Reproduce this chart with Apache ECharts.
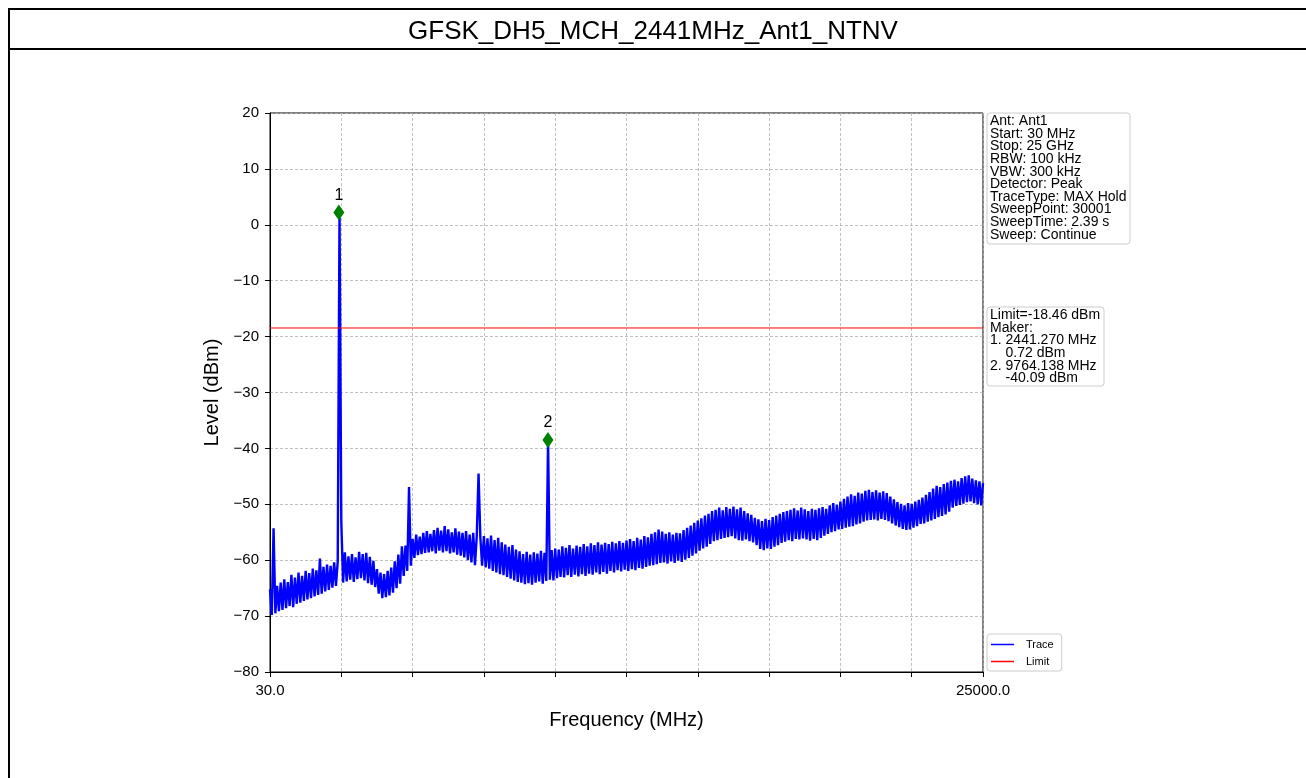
<!DOCTYPE html>
<html>
<head>
<meta charset="utf-8">
<script src="https://cdn.jsdelivr.net/npm/echarts@6/dist/echarts.min.js"></script>
<style>
html,body{margin:0;padding:0;background:#fff;}
#c{width:1306px;height:778px;}
</style>
</head>
<body>
<div id="c"></div>
<script>
// ---- data ----
const TITLE = 'GFSK_DH5_MCH_2441MHz_Ant1_NTNV';
const START_MHZ = 30;
const STOP_MHZ = 25000;
const X_TICK_STEP = 2497;
const Y_MIN = -80, Y_MAX = 20, Y_STEP = 10;
const LIMIT_DBM = -18.46;
// trace levels (dBm), 401 sweep samples from start to stop
const traceLevels = [
-65.2,-69.8,-54.3,-69.5,-64.6,-69.1,-64.0,-68.9,-63.4,-68.6,-63.9,-68.2,-62.6,-68.4,-63.1,-67.8,-62.2,-67.6,-62.8,-67.3,
-61.9,-67.0,-62.3,-66.8,-61.5,-66.5,-61.8,-66.2,-59.7,-66.0,-61.2,-65.6,-60.8,-65.3,-61.0,-64.9,-60.4,-64.6,-60.2,2.2,
-53.1,-64.0,-58.6,-63.8,-59.3,-63.5,-58.9,-63.9,-59.5,-63.4,-58.5,-63.2,-58.9,-63.6,-58.7,-64.1,-59.4,-64.4,-60.1,-64.8,
-61.6,-66.0,-62.2,-66.8,-62.5,-66.6,-61.9,-66.3,-61.3,-65.8,-60.2,-65.0,-59.0,-64.2,-57.5,-62.8,-57.4,-61.9,-46.9,-61.0,
-56.2,-59.6,-55.4,-59.1,-55.8,-58.9,-55.1,-58.7,-54.8,-58.6,-55.3,-58.4,-54.6,-58.8,-54.2,-58.3,-54.7,-58.6,-53.9,-58.4,
-54.5,-58.8,-55.0,-58.6,-54.3,-59.0,-54.9,-59.2,-55.1,-59.5,-54.8,-60.0,-55.4,-60.4,-55.1,-60.9,-55.6,-44.5,-55.9,-61.0,
-55.7,-61.3,-56.1,-61.5,-55.6,-61.9,-56.4,-62.2,-56.0,-62.5,-56.8,-62.7,-57.2,-63.0,-57.6,-63.3,-57.3,-63.6,-58.1,-63.9,
-58.4,-64.0,-58.9,-64.3,-58.5,-64.1,-59.0,-64.4,-58.6,-64.0,-58.8,-63.8,-58.3,-64.2,-58.7,-63.7,-38.5,-63.5,-58.2,-63.6,
-57.9,-63.2,-58.1,-63.0,-57.5,-63.1,-57.8,-62.7,-57.3,-63.0,-57.9,-62.6,-57.4,-62.9,-57.6,-62.5,-57.1,-62.8,-57.5,-62.4,
-57.0,-62.6,-57.3,-62.2,-56.8,-62.5,-57.2,-62.1,-56.9,-62.4,-57.1,-61.9,-56.7,-62.2,-57.0,-61.8,-56.6,-62.0,-56.9,-61.7,
-56.5,-61.9,-56.2,-61.6,-56.6,-61.8,-56.0,-61.4,-56.3,-61.5,-55.7,-61.2,-55.9,-61.0,-55.3,-60.9,-55.0,-60.7,-54.5,-60.5,
-54.9,-60.4,-55.3,-60.6,-55.0,-60.2,-55.4,-60.5,-55.1,-60.1,-55.2,-60.3,-54.6,-59.9,-54.2,-59.6,-53.8,-59.2,-53.3,-58.8,
-52.9,-58.3,-52.5,-57.9,-52.0,-57.6,-51.7,-57.1,-51.2,-56.6,-51.0,-56.4,-50.6,-56.2,-51.1,-56.0,-50.5,-55.9,-50.8,-55.7,
-50.4,-56.1,-50.9,-56.4,-50.6,-56.5,-51.2,-56.3,-51.6,-56.6,-51.9,-56.8,-52.4,-57.3,-52.7,-58.0,-53.0,-58.2,-52.6,-57.9,
-52.8,-58.0,-52.3,-57.6,-52.0,-57.3,-51.7,-56.9,-51.4,-56.7,-51.2,-56.4,-51.0,-56.6,-50.7,-56.2,-51.1,-56.3,-50.6,-56.1,
-50.9,-56.3,-51.2,-56.5,-50.8,-56.2,-51.0,-56.4,-50.7,-56.0,-50.5,-55.6,-50.8,-55.3,-50.2,-55.0,-49.8,-54.8,-50.1,-54.5,
-49.5,-54.4,-49.0,-54.2,-48.6,-54.0,-48.2,-53.9,-48.5,-53.6,-47.9,-53.4,-48.1,-53.1,-47.6,-52.9,-47.4,-52.8,-47.8,-52.7,
-47.5,-52.9,-47.9,-52.6,-47.7,-52.8,-48.0,-53.0,-48.6,-53.4,-49.1,-53.8,-49.6,-54.1,-49.9,-54.4,-50.2,-54.6,-49.8,-54.5,
-49.9,-54.2,-49.5,-53.9,-49.2,-53.5,-48.8,-53.4,-48.3,-53.1,-47.8,-52.9,-47.2,-52.6,-46.7,-52.3,-46.9,-52.1,-46.4,-51.8,
-46.1,-51.3,-45.8,-50.6,-45.6,-50.3,-45.9,-50.1,-45.3,-49.9,-45.0,-49.6,-44.8,-49.5,-45.4,-49.8,-45.7,-50.0,-45.9,-50.2,
-46.2
];
const markerFreqs = [2441.27, 9764.138];
const markerLevels = [2.2, -38.5];
const markerNames = ['1', '2'];
const infoLines = ['Ant: Ant1','Start: 30 MHz','Stop: 25 GHz','RBW: 100 kHz','VBW: 300 kHz','Detector: Peak','TraceType: MAX Hold','SweepPoint: 30001','SweepTime: 2.39 s','Sweep: Continue'];
const markerLines = ['Limit=-18.46 dBm','Maker:','1. 2441.270 MHz','    0.72 dBm','2. 9764.138 MHz','    -40.09 dBm'];

// ---- build ----
const FONT = '"Liberation Sans", Arial, sans-serif';
const step = (STOP_MHZ - START_MHZ) / (traceLevels.length - 1);
const traceData = traceLevels.map((v, i) => [START_MHZ + i * step, v]);
const limitData = [[START_MHZ, LIMIT_DBM], [STOP_MHZ, LIMIT_DBM]];
const markerData = markerFreqs.map((f, i) => ({value: [f, markerLevels[i]], name: markerNames[i]}));
const minus = s => String(s).replace('-', '\u2212');

const chart = echarts.init(document.getElementById('c'), null, {renderer: 'canvas'});
chart.setOption({
  animation: false,
  backgroundColor: '#ffffff',
  textStyle: {fontFamily: FONT},
  grid: {left: 270, top: 113, width: 713, height: 559, show: true, borderColor: '#000', borderWidth: 1, containLabel: false},
  xAxis: {
    type: 'value', min: START_MHZ, max: STOP_MHZ, interval: X_TICK_STEP,
    name: 'Frequency (MHz)', nameLocation: 'middle', nameGap: 38,
    nameTextStyle: {fontSize: 20, color: '#000', fontFamily: FONT},
    axisLine: {onZero: false, lineStyle: {color: '#000', width: 1}},
    axisTick: {show: true, length: 5, lineStyle: {color: '#000'}},
    axisLabel: {color: '#000', fontSize: 15, margin: 11, fontFamily: FONT, showMinLabel: true, showMaxLabel: true,
      formatter: v => (Math.abs(v - START_MHZ) < 1e-6 || Math.abs(v - STOP_MHZ) < 1e-6) ? Number(v).toFixed(1) : ''},
    splitLine: {show: true, lineStyle: {color: '#b0b0b0', type: [3, 2], width: 0.8}}
  },
  yAxis: {
    type: 'value', min: Y_MIN, max: Y_MAX, interval: Y_STEP,
    name: 'Level (dBm)', nameLocation: 'middle', nameGap: 44,
    nameTextStyle: {fontSize: 20, color: '#000', fontFamily: FONT},
    axisLine: {show: true, onZero: false, lineStyle: {color: '#000', width: 1}},
    axisTick: {show: true, length: 5, lineStyle: {color: '#000'}},
    axisLabel: {color: '#000', fontSize: 15, margin: 11, fontFamily: FONT, formatter: v => minus(v)},
    splitLine: {show: true, lineStyle: {color: '#b0b0b0', type: [3, 2], width: 0.8}}
  },
  legend: {
    data: [{name: 'Trace', icon: 'rect'}, {name: 'Limit', icon: 'rect'}],
    orient: 'vertical', left: 987, top: 634,
    itemWidth: 23, itemHeight: 1.5, itemGap: 6,
    textStyle: {fontSize: 11, color: '#000', fontFamily: FONT, padding: [0, 0, 0, 7]},
    borderColor: '#cccccc', borderWidth: 1, borderRadius: 3,
    padding: [5, 8, 4, 4], backgroundColor: '#ffffff'
  },
  series: [
    {name: 'Trace', type: 'line', data: traceData, showSymbol: false, symbol: 'none',
     lineStyle: {color: '#0000ff', width: 2.4, join: 'bevel'}, itemStyle: {color: '#0000ff'}, z: 3},
    {name: 'Limit', type: 'line', data: limitData, showSymbol: false, symbol: 'none',
     lineStyle: {color: '#ff0000', width: 1}, itemStyle: {color: '#ff0000'}, z: 4},
    {name: 'Markers', type: 'scatter', data: markerData, symbol: 'diamond', symbolSize: [11, 16],
     itemStyle: {color: '#008000', opacity: 1}, z: 5,
     label: {show: true, position: 'top', distance: 1, formatter: p => p.name, color: '#000', fontSize: 16, fontFamily: FONT}}
  ],
  graphic: [
    {type: 'line', shape: {x1: 9, y1: 9, x2: 1306, y2: 9}, style: {stroke: '#000', lineWidth: 2}},
    {type: 'line', shape: {x1: 9, y1: 49, x2: 1306, y2: 49}, style: {stroke: '#000', lineWidth: 2}},
    {type: 'line', shape: {x1: 9, y1: 8, x2: 9, y2: 778}, style: {stroke: '#000', lineWidth: 2}},
    {type: 'text', left: 'center', top: 19, style: {text: TITLE, fontSize: 26, fontFamily: FONT, fill: '#000'}},
    {type: 'rect', shape: {x: 987, y: 113, width: 143, height: 131, r: 3}, style: {fill: '#fff', stroke: '#cccccc', lineWidth: 1}, z: 10},
    {type: 'text', x: 990, y: 115, z: 11, style: {text: infoLines.join('\n'), fontSize: 14, lineHeight: 12.6, fontFamily: FONT, fill: '#000'}},
    {type: 'rect', shape: {x: 987, y: 307, width: 117, height: 79, r: 3}, style: {fill: '#fff', stroke: '#cccccc', lineWidth: 1}, z: 10},
    {type: 'text', x: 990, y: 309, z: 11, style: {text: markerLines.join('\n'), fontSize: 14, lineHeight: 12.6, fontFamily: FONT, fill: '#000'}}
  ]
});
</script>
</body>
</html>
